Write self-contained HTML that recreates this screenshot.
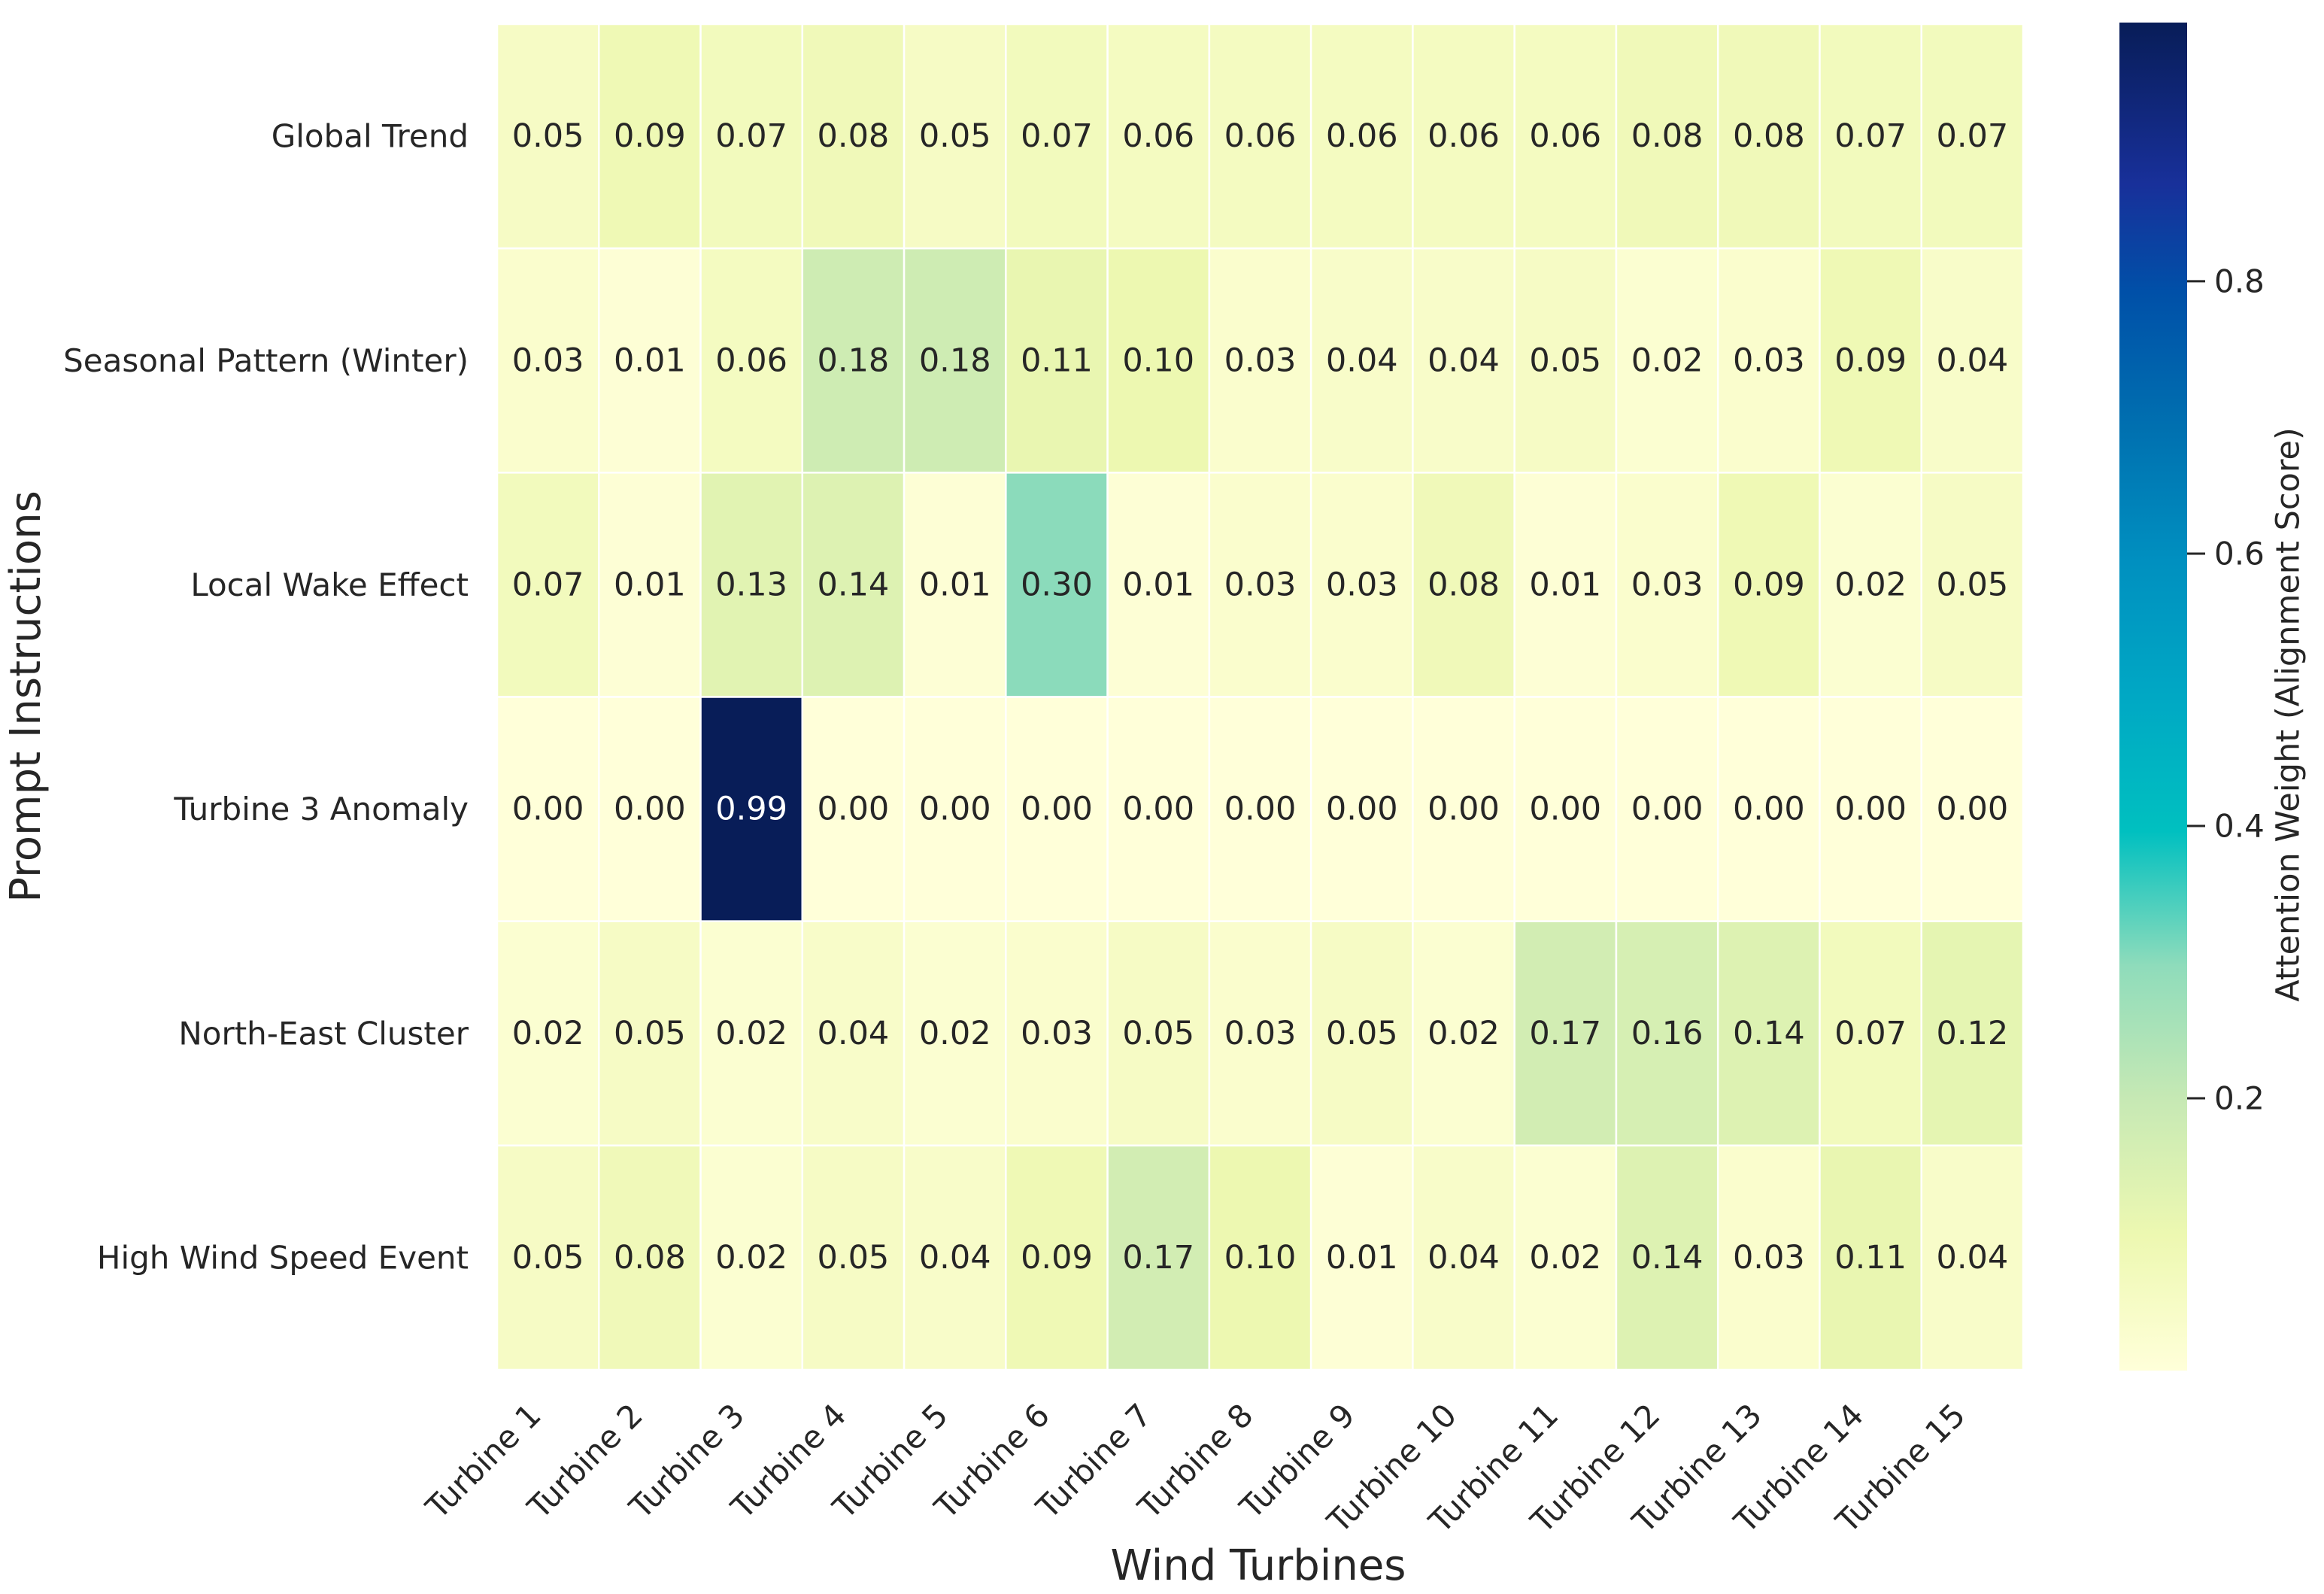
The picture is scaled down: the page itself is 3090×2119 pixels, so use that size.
<!DOCTYPE html>
<html><head><meta charset="utf-8"><style>
html,body{margin:0;padding:0;background:#fff;}
svg{display:block;font-family:"DejaVu Sans","Liberation Sans",sans-serif;}
</style></head><body>
<svg id="chart" width="3090" height="2119" viewBox="0 0 3090 2119" xmlns="http://www.w3.org/2000/svg">
<defs><linearGradient id="cbgrad" x1="0" y1="1" x2="0" y2="0"></linearGradient></defs>
<g id="cells"></g>
<g id="annots"></g>
<g id="ylabels"></g>
<g id="xlabels"></g>
<rect id="cbar" x="2818" y="30" width="90" height="1792" fill="url(#cbgrad)"/>
<g id="cbticks"></g>
<text x="0" y="0" transform="translate(3045,950) rotate(-90)" text-anchor="middle" dominant-baseline="middle" font-size="43" fill="#262626">Attention Weight (Alignment Score)</text>
<text x="1673" y="2085" text-anchor="middle" dominant-baseline="middle" font-size="56" fill="#262626">Wind Turbines</text>
<text x="0" y="0" transform="translate(38,926) rotate(-90)" text-anchor="middle" dominant-baseline="middle" font-size="56" fill="#262626">Prompt Instructions</text>
</svg>
<script>
const rows = ["Global Trend","Seasonal Pattern (Winter)","Local Wake Effect","Turbine 3 Anomaly","North-East Cluster","High Wind Speed Event"];
const cols = ["Turbine 1","Turbine 2","Turbine 3","Turbine 4","Turbine 5","Turbine 6","Turbine 7","Turbine 8","Turbine 9","Turbine 10","Turbine 11","Turbine 12","Turbine 13","Turbine 14","Turbine 15"];
const rowGlobal = [0.05,0.09,0.07,0.08,0.05,0.07,0.06,0.06,0.06,0.06,0.06,0.08,0.08,0.07,0.07];
const rowSeasonal = [0.03,0.01,0.06,0.18,0.18,0.11,0.10,0.03,0.04,0.04,0.05,0.02,0.03,0.09,0.04];
const rowWake = [0.07,0.01,0.13,0.14,0.01,0.30,0.01,0.03,0.03,0.08,0.01,0.03,0.09,0.02,0.05];
const rowAnomaly = [0.00,0.00,0.99,0.00,0.00,0.00,0.00,0.00,0.00,0.00,0.00,0.00,0.00,0.00,0.00];
const rowNE = [0.02,0.05,0.02,0.04,0.02,0.03,0.05,0.03,0.05,0.02,0.17,0.16,0.14,0.07,0.12];
const rowHigh = [0.05,0.08,0.02,0.05,0.04,0.09,0.17,0.10,0.01,0.04,0.02,0.14,0.03,0.11,0.04];
const values = [rowGlobal,rowSeasonal,rowWake,rowAnomaly,rowNE,rowHigh];
const cbTicks = [0.2,0.4,0.6,0.8];
const vmin = 0.0, vmax = 0.99;

const NS="http://www.w3.org/2000/svg";
const L=661,R=2690,T=32,B=1821;
const cw=(R-L)/cols.length, rh=(B-T)/rows.length;
const xPos=i=>L+i*cw, yPos=j=>T+j*rh;
const cbTop=30, cbBot=1822;
const cbY=v=>cbBot-(v-vmin)/(vmax-vmin)*(cbBot-cbTop);

const stops=[[0,[255,255,217]],[0.1,[237,248,177]],[0.2,[199,233,180]],[0.3,[143,220,187]],[0.4,[0,192,192]],[0.5,[0,168,196]],[0.6,[0,144,192]],[0.7,[0,112,176]],[0.8,[0,80,168]],[0.88,[24,48,154]],[1.0,[8,29,88]]];
function color(v){
  let t=(v-vmin)/(vmax-vmin); t=Math.max(0,Math.min(1,t));
  for(let k=1;k<stops.length;k++){
    if(t<=stops[k][0]){
      const a=stops[k-1],b=stops[k],f=(t-a[0])/(b[0]-a[0]);
      const c=a[1].map((x,i)=>Math.round(x+(b[1][i]-x)*f));
      return `rgb(${c[0]},${c[1]},${c[2]})`;
    }
  }
  return "rgb(8,29,88)";
}
const grad=document.getElementById('cbgrad');
stops.forEach(s=>{const st=document.createElementNS(NS,'stop');st.setAttribute('offset',s[0]);st.setAttribute('stop-color',`rgb(${s[1].join(',')})`);grad.appendChild(st);});

const gC=document.getElementById('cells'),gA=document.getElementById('annots');
values.forEach((row,j)=>row.forEach((v,i)=>{
  const r=document.createElementNS(NS,'rect');
  
  
  r.setAttribute('x',xPos(i));r.setAttribute('y',yPos(j));
  r.setAttribute('width',cw);r.setAttribute('height',rh);
  r.setAttribute('fill',color(v));r.setAttribute('stroke','#fff');r.setAttribute('stroke-width','2.5');
  gC.appendChild(r);
  const t=document.createElementNS(NS,'text');
  
  
  t.setAttribute('x',xPos(i)+cw/2);t.setAttribute('y',yPos(j)+rh/2);
  t.setAttribute('text-anchor','middle');t.setAttribute('dominant-baseline','central');
  t.setAttribute('font-size','43');
  t.setAttribute('fill',v>0.5?'#ffffff':'#262626');
  t.textContent=v.toFixed(2);
  gA.appendChild(t);
}));
const gY=document.getElementById('ylabels');
rows.forEach((n,j)=>{
  const t=document.createElementNS(NS,'text');
  
  
  t.setAttribute('x',623);t.setAttribute('y',yPos(j)+rh/2);
  t.setAttribute('text-anchor','end');t.setAttribute('dominant-baseline','central');
  t.setAttribute('font-size','42');t.setAttribute('fill','#262626');
  t.textContent=n;gY.appendChild(t);
});
const gX=document.getElementById('xlabels');
cols.forEach((n,i)=>{
  const ex=xPos(i)+cw/2-7, ey=1884;
  const t=document.createElementNS(NS,'text');
  
  
  t.setAttribute('x',ex);t.setAttribute('y',ey);
  t.setAttribute('text-anchor','end');
  t.setAttribute('transform',`rotate(-45 ${ex} ${ey})`);
  t.setAttribute('font-size','42');t.setAttribute('fill','#262626');
  t.textContent=n;gX.appendChild(t);
});
const gT=document.getElementById('cbticks');
cbTicks.forEach(v=>{
  const y=cbY(v);
  const l=document.createElementNS(NS,'line');
  
  
  l.setAttribute('x1',2908);l.setAttribute('x2',2932);l.setAttribute('y1',y);l.setAttribute('y2',y);
  l.setAttribute('stroke','#262626');l.setAttribute('stroke-width','3');
  gT.appendChild(l);
  const t=document.createElementNS(NS,'text');
  
  
  t.setAttribute('x',2944);t.setAttribute('y',y);
  t.setAttribute('dominant-baseline','central');
  t.setAttribute('font-size','42');t.setAttribute('fill','#262626');
  t.textContent=v.toFixed(1);gT.appendChild(t);
});
</script>
</body></html>
